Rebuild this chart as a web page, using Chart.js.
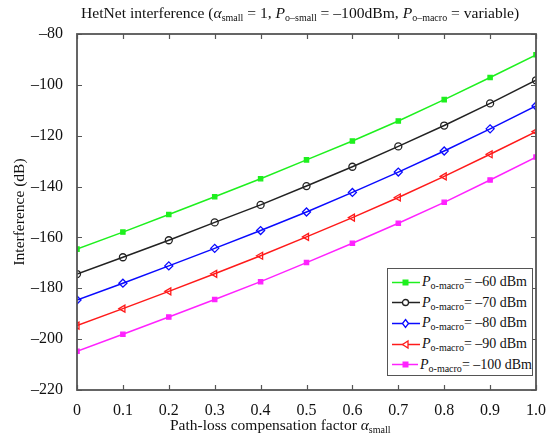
<!DOCTYPE html>
<html>
<head>
<meta charset="utf-8">
<script src="https://cdn.jsdelivr.net/npm/chart.js@4"></script>
<style>
  body { margin: 0; background: #fff; }
  #wrap { position: relative; width: 552px; height: 439px; font-family: "Liberation Serif", serif; color: #111; }
  #chart { position: absolute; left: 0; top: 0; }
  .sub { font-size: 10px; position: relative; top: 3px; }
  #title { position: absolute; left: 81px; top: 4px; font-size: 15.6px; white-space: nowrap; }
  #xtitle { position: absolute; left: 170px; top: 416px; font-size: 15.5px; white-space: nowrap; }
  #legend { position: absolute; left: 387px; top: 268px; width: 146px; height: 108px; border: 1.5px solid #555; background: #fff; box-sizing: border-box; padding-top: 3px; }
  .row { display: flex; align-items: center; height: 20.6px; font-size: 14px; white-space: nowrap; }
  .row svg { margin-left: 4px; margin-right: 2px; }
</style>
</head>
<body>
<div id="wrap">
  <canvas id="chart" width="552" height="439"></canvas>
  <div id="title">HetNet interference (<i>α</i><span class="sub">small</span> = 1, <i>P</i><span class="sub">o–small</span> = –100dBm, <i>P</i><span class="sub">o–macro</span> = variable)</div>
  <div id="xtitle">Path-loss compensation factor <i>α</i><span class="sub">small</span></div>
  <div id="legend"></div>
</div>
<script>
// Datos
const alphaValues = [0, 0.1, 0.2, 0.3, 0.4, 0.5, 0.6, 0.7, 0.8, 0.9, 1.0];
const macro60 = [-164.6, -157.9, -151.0, -144.0, -136.9, -129.5, -122.1, -114.2, -105.8, -97.1, -88.2];
const macro70 = [-174.4, -167.8, -161.1, -154.1, -147.2, -139.8, -132.2, -124.2, -116.0, -107.3, -98.2];
const macro80 = [-184.6, -178.0, -171.2, -164.3, -157.3, -150.0, -142.3, -134.3, -126.0, -117.3, -108.3];
const macro90 = [-194.7, -188.0, -181.2, -174.3, -167.2, -159.8, -152.2, -144.3, -136.0, -127.3, -118.4];
const macro100 = [-204.8, -198.1, -191.3, -184.4, -177.4, -169.9, -162.3, -154.4, -146.2, -137.4, -128.4];
const legendLabels = ["–60 dBm", "–70 dBm", "–80 dBm", "–90 dBm", "–100 dBm"];

const seriesList = [
    { values: macro60, color: "#1ef01e", point: "rect", radius: 3, fill: true, rot: 0 },
    { values: macro70, color: "#222222", point: "circle", radius: 3.5, fill: false, rot: 0 },
    { values: macro80, color: "#0a0aff", point: "rectRot", radius: 4, fill: false, rot: 0 },
    { values: macro90, color: "#ff1a1a", point: "triangle", radius: 4, fill: false, rot: -90 },
    { values: macro100, color: "#ff22ff", point: "rect", radius: 3, fill: true, rot: 0 }
];

function toPoints(values) {
    return values.map((v, i) => ({ x: alphaValues[i], y: v }));
}

// Marcas hacia dentro y borde del área del gráfico
const innerTicks = {
    id: "innerTicks",
    afterDraw(chart) {
        const ctx = chart.ctx;
        const a = chart.chartArea;
        const xs = chart.scales.x, ys = chart.scales.y;
        ctx.save();
        ctx.strokeStyle = "#555";
        ctx.lineWidth = 1.2;
        xs.ticks.forEach((t, i) => {
            const px = Math.round(xs.getPixelForTick(i)) + 0.5;
            ctx.beginPath();
            ctx.moveTo(px, a.bottom); ctx.lineTo(px, a.bottom - 5);
            ctx.moveTo(px, a.top); ctx.lineTo(px, a.top + 5);
            ctx.stroke();
        });
        ys.ticks.forEach((t, i) => {
            const py = Math.round(ys.getPixelForTick(i)) + 0.5;
            ctx.beginPath();
            ctx.moveTo(a.left, py); ctx.lineTo(a.left + 5, py);
            ctx.moveTo(a.right, py); ctx.lineTo(a.right - 5, py);
            ctx.stroke();
        });
        ctx.lineWidth = 1.8;
        ctx.strokeRect(a.left, a.top, a.right - a.left, a.bottom - a.top);
        ctx.restore();
    }
};

new Chart(document.getElementById("chart"), {
    type: "line",
    data: {
        datasets: seriesList.map((s, i) => ({
            label: legendLabels[i],
            data: toPoints(s.values),
            borderColor: s.color,
            backgroundColor: s.color,
            borderWidth: 1.5,
            pointStyle: s.point,
            pointRadius: s.radius,
            pointRotation: s.rot,
            pointBorderWidth: 1.3,
            pointBackgroundColor: s.fill ? s.color : "rgba(255,255,255,0)",
            pointBorderColor: s.color,
            tension: 0
        }))
    },
    options: {
        responsive: false,
        animation: false,
        layout: { padding: { top: 34, right: 16, left: 0, bottom: 0 } },
        plugins: {
            legend: { display: false },
            tooltip: { enabled: false }
        },
        scales: {
            x: {
                type: "linear",
                min: 0,
                max: 1,
                grid: { display: false },
                border: { display: false },
                afterFit: s => { s.height = 49; },
                ticks: {
                    stepSize: 0.1,
                    padding: 3,
                    color: "#111",
                    font: { family: "Liberation Serif", size: 16 },
                    maxRotation: 0,
                    callback: v => (Math.abs(v) < 1e-9 ? "0" : v.toFixed(1))
                }
            },
            y: {
                min: -220,
                max: -80,
                grid: { display: false },
                border: { display: false },
                afterFit: s => { s.width = 77; },
                title: {
                    display: true,
                    text: "Interference (dB)",
                    color: "#111",
                    font: { family: "Liberation Serif", size: 15.5 },
                    padding: { top: 11, bottom: 0 }
                },
                ticks: {
                    stepSize: 20,
                    padding: 6,
                    color: "#111",
                    font: { family: "Liberation Serif", size: 16 },
                    callback: v => String(v).replace("-", "–")
                }
            }
        }
    },
    plugins: [innerTicks]
});

// Leyenda en HTML (con subíndices)
const legend = document.getElementById("legend");
seriesList.forEach((s, i) => {
    const row = document.createElement("div");
    row.className = "row";
    let marker = "";
    const fill = s.fill ? s.color : "none";
    if (s.point === "rect") marker = `<rect x="11" y="3" width="5" height="5" fill="${fill}" stroke="${s.color}"/>`;
    if (s.point === "circle") marker = `<circle cx="13.5" cy="5.5" r="3" fill="white" stroke="${s.color}" stroke-width="1.3"/>`;
    if (s.point === "rectRot") marker = `<polygon points="13.5,1.5 16.5,5.5 13.5,9.5 10.5,5.5" fill="white" stroke="${s.color}" stroke-width="1.3"/>`;
    if (s.point === "triangle") marker = `<polygon points="10.5,5.5 16,2 16,9" fill="white" stroke="${s.color}" stroke-width="1.3"/>`;
    row.innerHTML = `<svg width="28" height="11"><line x1="0" y1="5.5" x2="28" y2="5.5" stroke="${s.color}" stroke-width="1.5"/>${marker}</svg>` +
        `<span><i>P</i><span class="sub">o-macro</span>= ${legendLabels[i]}</span>`;
    legend.appendChild(row);
});
</script>
</body>
</html>
